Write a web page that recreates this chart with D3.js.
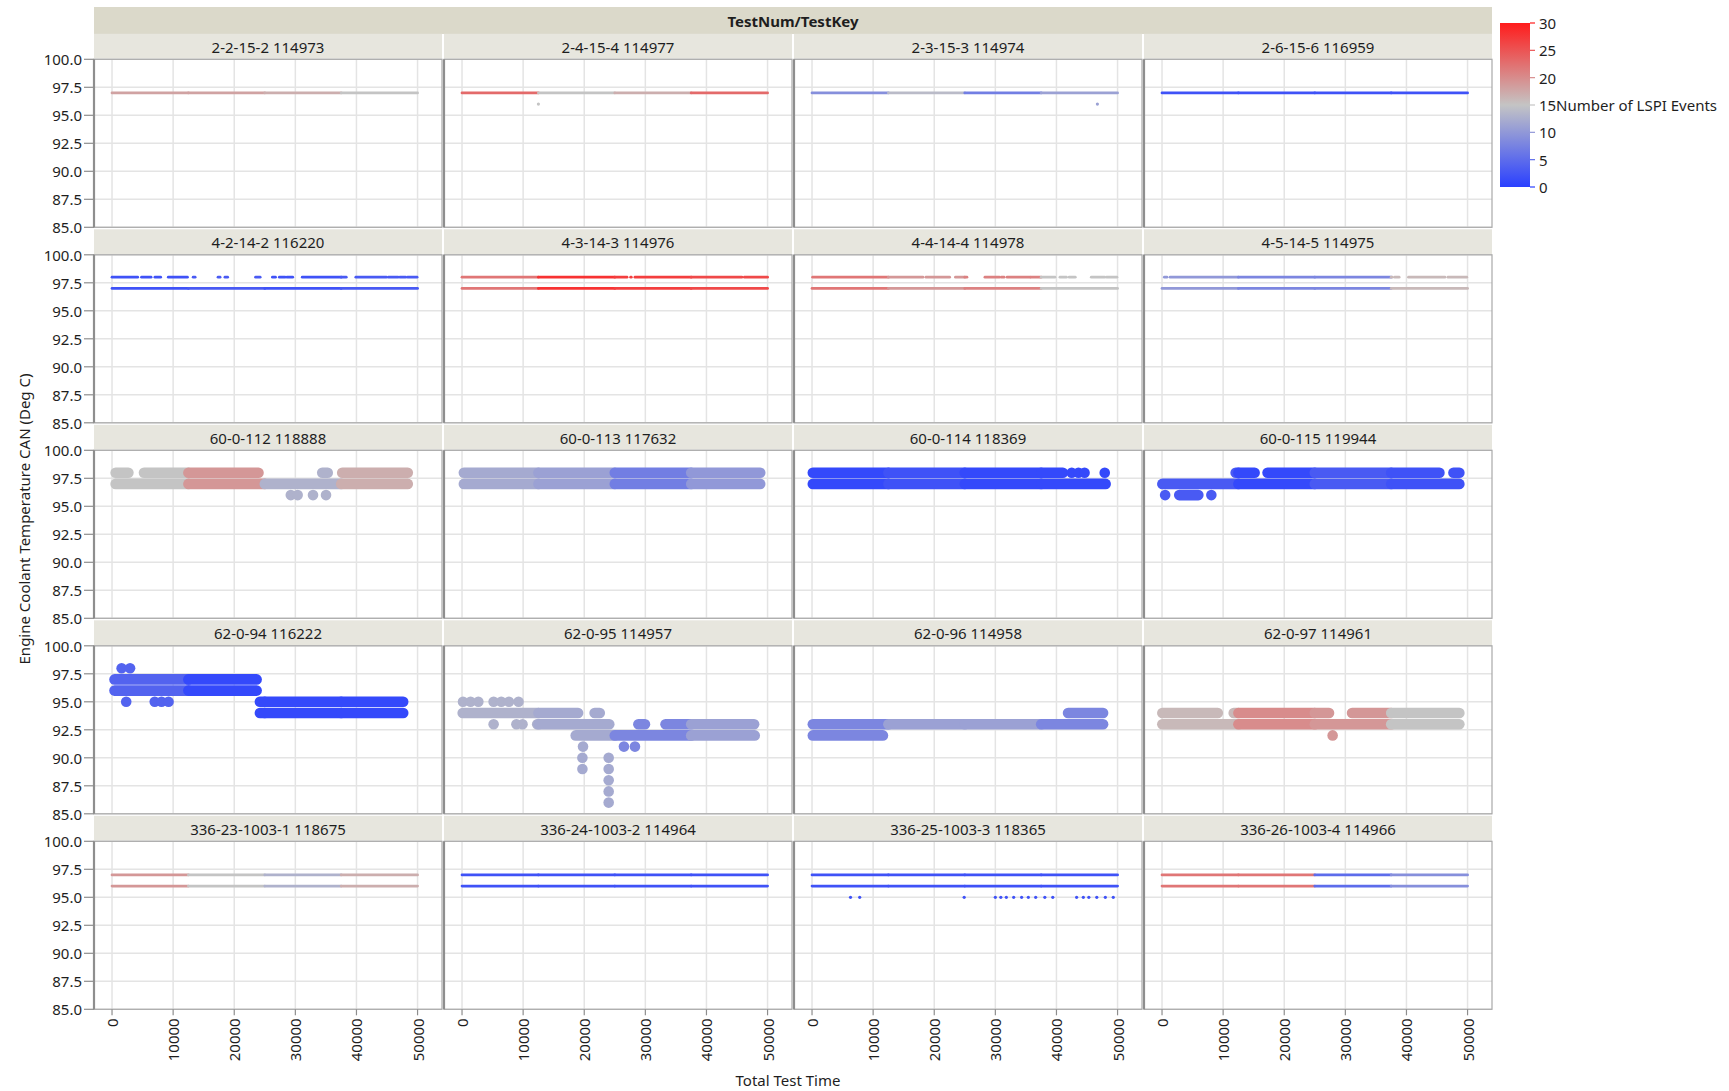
<!DOCTYPE html>
<html><head><meta charset="utf-8">
<script src="https://cdn.jsdelivr.net/npm/d3@7"></script>
<style>
body{margin:0;background:#fff;}
text{font-family:"Noto Sans","Open Sans",sans-serif;fill:#1e1e1e;}
</style></head>
<body><svg id="chart" width="1729" height="1091"></svg>
<script>
// ---------------- DATA ----------------
const panelTitles = [
  "2-2-15-2 114973","2-4-15-4 114977","2-3-15-3 114974","2-6-15-6 116959",
  "4-2-14-2 116220","4-3-14-3 114976","4-4-14-4 114978","4-5-14-5 114975",
  "60-0-112 118888","60-0-113 117632","60-0-114 118369","60-0-115 119944",
  "62-0-94 116222","62-0-95 114957","62-0-96 114958","62-0-97 114961",
  "336-23-1003-1 118675","336-24-1003-2 114964","336-25-1003-3 118365","336-26-1003-4 114966"
];
// LSPI event count for each quarter of the test (0-12.5k, 12.5k-25k, 25k-37.5k, 37.5k-50k)
const quarterEdges = [12500, 25000, 37500];
const lspiByQuarter = [
  [18,18,17,15],[23,15,17,23],[9,14,7,11],[2,2,2,2],
  [2,3,2,3],[22,28,27,26],[22,19,21,15],[10,8,8,16],
  [15,19,13,17],[12,11,7,10],[1,2,1,1],[3,1,3,2],
  [4,1,1,1],[13,12,8,11],[8,11,11,8],[16,20,19,15],
  [19,15,13,17],[2,2,2,2],[2,2,2,2],[22,22,5,9]
];
// runs of consecutive readings: [panel, temperature, start time, end time]
const runs = [
  [0,97,0,50000],
  [1,97,0,50000],
  [2,97,0,50000],
  [3,97,0,50000],
  [4,97,0,50000],
  [4,98,0,4200],[4,98,4830,6390],[4,98,7020,7960],[4,98,9210,12340],[4,98,13280,13600],
  [4,98,17350,17680],[4,98,18480,18920],[4,98,23490,24240],[4,98,26250,26750],[4,98,27380,28320],
  [4,98,28630,29570],[4,98,31130,38330],[4,98,39900,44910],[4,98,45230,46800],[4,98,47110,48050],[4,98,48360,49920],
  [5,97,0,50000],
  [5,98,0,27000],[5,98,27600,27700],[5,98,28300,45800],[5,98,46200,50000],
  [6,97,0,50000],
  [6,98,100,18150],[6,98,18640,22520],[6,98,23470,25350],[6,98,28300,30670],[6,98,30990,31430],
  [6,98,31920,35680],[6,98,35810,37250],[6,98,37430,39750],[6,98,40570,41640],[6,98,42080,43080],
  [6,98,45700,47890],[6,98,48200,49900],
  [7,97,0,50000],
  [7,98,380,800],[7,98,1310,37690],[7,98,38070,38800],[7,98,40340,46300],[7,98,46790,49870],
  [8,98,590,2680],[8,98,5230,23970],[8,98,34400,35300],[8,98,37670,48400],
  [8,97,590,48400],
  [9,98,300,48800],[9,97,300,48800],
  [10,98,130,41050],[10,97,130,48050],
  [11,97,50,48660],[11,98,12050,15150],[11,98,17270,45400],[11,98,47690,48660],[11,96,2820,5940],
  [12,97,410,23660],[12,96,410,23660],[12,95,24200,47650],[12,94,24200,47650],
  [13,94,110,18990],[13,94,21700,22540],
  [13,93,12300,24100],[13,93,28860,29940],[13,93,33300,47800],
  [13,92,18600,47900],
  [14,93,130,47630],[14,92,130,11600],[14,94,41900,47630],
  [15,94,50,9130],[15,94,11730,27330],[15,94,31100,48660],[15,93,50,48660],
  [16,97,0,50000],[16,96,0,50000],
  [17,97,0,50000],[17,96,0,50000],
  [18,97,0,50000],[18,96,0,50000],
  [19,97,0,50000],[19,96,0,50000]
];
// isolated readings: [panel, temperature, time]
const dots = [
  [1,96,12500],[2,96,46700],
  [8,96,29260],[8,96,30380],[8,96,32890],[8,96,35020],
  [10,98,42500],[10,98,43600],[10,98,44600],[10,98,47900],
  [11,96,510],[11,96,8070],
  [12,98,1570],[12,98,2950],[12,95,2320],[12,95,6990],[12,95,8100],[12,95,9250],
  [13,95,160],[13,95,1400],[13,95,2670],[13,95,5170],[13,95,6420],[13,95,7680],[13,95,9250],
  [13,93,5170],[13,93,8900],[13,93,9900],
  [13,91,19800],[13,91,26500],[13,91,28300],
  [13,90,19700],[13,90,24000],[13,89,19700],[13,89,24000],
  [13,88,24000],[13,87,24000],[13,86,24000],
  [15,92,27920],
  [18,95,6300],[18,95,7800],[18,95,24900],[18,95,30000],[18,95,30900],[18,95,31800],[18,95,33000],
  [18,95,34300],[18,95,35400],[18,95,36600],[18,95,38100],[18,95,39400],[18,95,43300],[18,95,44400],
  [18,95,45300],[18,95,46600],[18,95,48000],[18,95,49300]
];
const xTicks = [0,10000,20000,30000,40000,50000];
const yTicks = [85,87.5,90,92.5,95,97.5,100];
const legendTicks = [0,5,10,15,20,25,30];

// ---------------- LAYOUT ----------------
const svg = d3.select("#chart");
const FS = 15;
const left0 = 94, colStep = 350, panelW = 348;
const top0 = 59.3, rowStep = 195.5, panelH = 168;
const nCols = 4, nRows = 5;
const bigRows = new Set([2,3]);

const x = d3.scaleLinear().domain([-2950, 54000]).range([0, panelW]);
const y = d3.scaleLinear().domain([85, 100]).range([panelH, 0]);
const color = d3.scaleLinear().domain([0,15,30]).range(["#2a40ff","#c4c4c4","#ff1c1c"]);

// top header
svg.append("rect").attr("x", left0).attr("y", 7).attr("width", 3*colStep + panelW).attr("height", 27)
  .attr("fill", "#dbd9ca");
svg.append("text").attr("x", left0 + (3*colStep + panelW)/2).attr("y", 21).attr("text-anchor","middle")
  .attr("dominant-baseline","central").attr("font-weight","bold").attr("font-size", FS).text("TestNum/TestKey");

const quarterBounds = [-Infinity, ...quarterEdges, Infinity];
function splitByQuarter(a, b){
  const out = [];
  for (let q = 0; q < 4; q++){
    const s = Math.max(a, quarterBounds[q]), e = Math.min(b, quarterBounds[q+1]);
    if (s <= e) out.push([s, e, q]);
  }
  return out;
}
function quarterOf(t){ let q = 0; while (q < 3 && t >= quarterEdges[q]) q++; return q; }

panelTitles.forEach((title, i) => {
  const r = Math.floor(i / nCols), c = i % nCols;
  const px = left0 + c*colStep, py = top0 + r*rowStep;
  // title band
  svg.append("rect").attr("x", px).attr("y", py - 25.5).attr("width", panelW).attr("height", 25)
    .attr("fill", "#e7e6de");
  svg.append("text").attr("x", px + panelW/2).attr("y", py - 12.5).attr("text-anchor","middle")
    .attr("dominant-baseline","central").attr("font-size", FS).text(title);

  const g = svg.append("g").attr("transform", `translate(${px},${py})`);
  g.append("rect").attr("width", panelW).attr("height", panelH).attr("fill", "#fff");
  // grid
  g.selectAll(".gx").data(xTicks).join("line")
    .attr("x1", d => x(d)).attr("x2", d => x(d)).attr("y1", 0).attr("y2", panelH)
    .attr("stroke", "#e4e4e4").attr("stroke-width", 1.5);
  g.selectAll(".gy").data(yTicks).join("line")
    .attr("x1", 0).attr("x2", panelW).attr("y1", d => y(d)).attr("y2", d => y(d))
    .attr("stroke", "#e4e4e4").attr("stroke-width", 1.5);

  const rad = bigRows.has(r) ? 5.3 : 1.4;
  const lspi = lspiByQuarter[i];
  const pieces = [];
  runs.filter(d => d[0] === i).forEach(d => {
    splitByQuarter(d[2], d[3]).forEach(p => pieces.push({t: d[1], a: p[0], b: p[1], q: p[2]}));
  });
  pieces.sort((m, n) => m.a - n.a);
  g.selectAll(".run").data(pieces).join("line")
    .attr("x1", d => x(d.a)).attr("x2", d => x(d.b))
    .attr("y1", d => y(d.t)).attr("y2", d => y(d.t))
    .attr("stroke", d => color(lspi[d.q])).attr("stroke-width", rad*2)
    .attr("stroke-linecap", "round");
  g.selectAll(".dot").data(dots.filter(d => d[0] === i)).join("circle")
    .attr("cx", d => x(d[2])).attr("cy", d => y(d[1])).attr("r", bigRows.has(r) ? rad : 1.6)
    .attr("fill", d => color(lspi[quarterOf(d[2])]));

  // frame
  g.append("rect").attr("width", panelW).attr("height", panelH).attr("fill", "none")
    .attr("stroke", "#a9a9a9").attr("stroke-width", 1.2);
  g.append("line").attr("x1", 0).attr("x2", 0).attr("y1", 0).attr("y2", panelH)
    .attr("stroke", "#8e8e8e").attr("stroke-width", 2.2);

  // y axis on first column
  if (c === 0){
    const ya = svg.append("g").attr("transform", `translate(${px},${py})`);
    ya.selectAll("line").data(yTicks).join("line")
      .attr("x1", -10).attr("x2", 0).attr("y1", d => y(d)).attr("y2", d => y(d))
      .attr("stroke", "#8e8e8e").attr("stroke-width", 1.2);
    ya.selectAll("text").data(yTicks).join("text")
      .attr("x", -12).attr("y", d => y(d)).attr("text-anchor","end").attr("dominant-baseline","central")
      .attr("font-size", FS).text(d => d3.format(".1f")(d));
  }
  // x axis on bottom row
  if (r === nRows - 1){
    const xa = svg.append("g").attr("transform", `translate(${px},${py + panelH})`);
    xa.selectAll("line").data(xTicks).join("line")
      .attr("x1", d => x(d)).attr("x2", d => x(d)).attr("y1", 0).attr("y2", 6)
      .attr("stroke", "#8e8e8e").attr("stroke-width", 1.2);
    xa.selectAll("text").data(xTicks).join("text")
      .attr("transform", d => `translate(${x(d)},9) rotate(-90)`)
      .attr("text-anchor","end").attr("dominant-baseline","central")
      .attr("font-size", FS).text(d => d);
  }
});

// axis titles
svg.append("text").attr("transform", "translate(24,519) rotate(-90)").attr("text-anchor","middle")
  .attr("dominant-baseline","central").attr("font-size", FS).text("Engine Coolant Temperature CAN (Deg C)");
svg.append("text").attr("x", 788).attr("y", 1080).attr("text-anchor","middle")
  .attr("dominant-baseline","central").attr("font-size", FS).text("Total Test Time");

// legend
const yL = d3.scaleLinear().domain([0,30]).range([187, 23]);
const grad = svg.append("defs").append("linearGradient").attr("id","lg")
  .attr("x1","0").attr("y1","1").attr("x2","0").attr("y2","0");
[0,15,30].forEach(v => grad.append("stop").attr("offset", v/30).attr("stop-color", color(v)));
svg.append("rect").attr("x",1500).attr("y",yL(30)).attr("width",30).attr("height",yL(0)-yL(30))
  .attr("fill","url(#lg)");
svg.selectAll(".lt").data(legendTicks).join("line")
  .attr("x1",1530).attr("x2",1535).attr("y1",d=>yL(d)).attr("y2",d=>yL(d))
  .attr("stroke", d => color(d)).attr("stroke-width",1.2);
svg.selectAll(".ll").data(legendTicks).join("text")
  .attr("x",1539).attr("y",d=>yL(d)).attr("dominant-baseline","central").attr("font-size",FS).text(d=>d);
svg.append("text").attr("x",1556).attr("y",yL(15)).attr("dominant-baseline","central")
  .attr("font-size",FS).text("Number of LSPI Events");
</script>
</body></html>
